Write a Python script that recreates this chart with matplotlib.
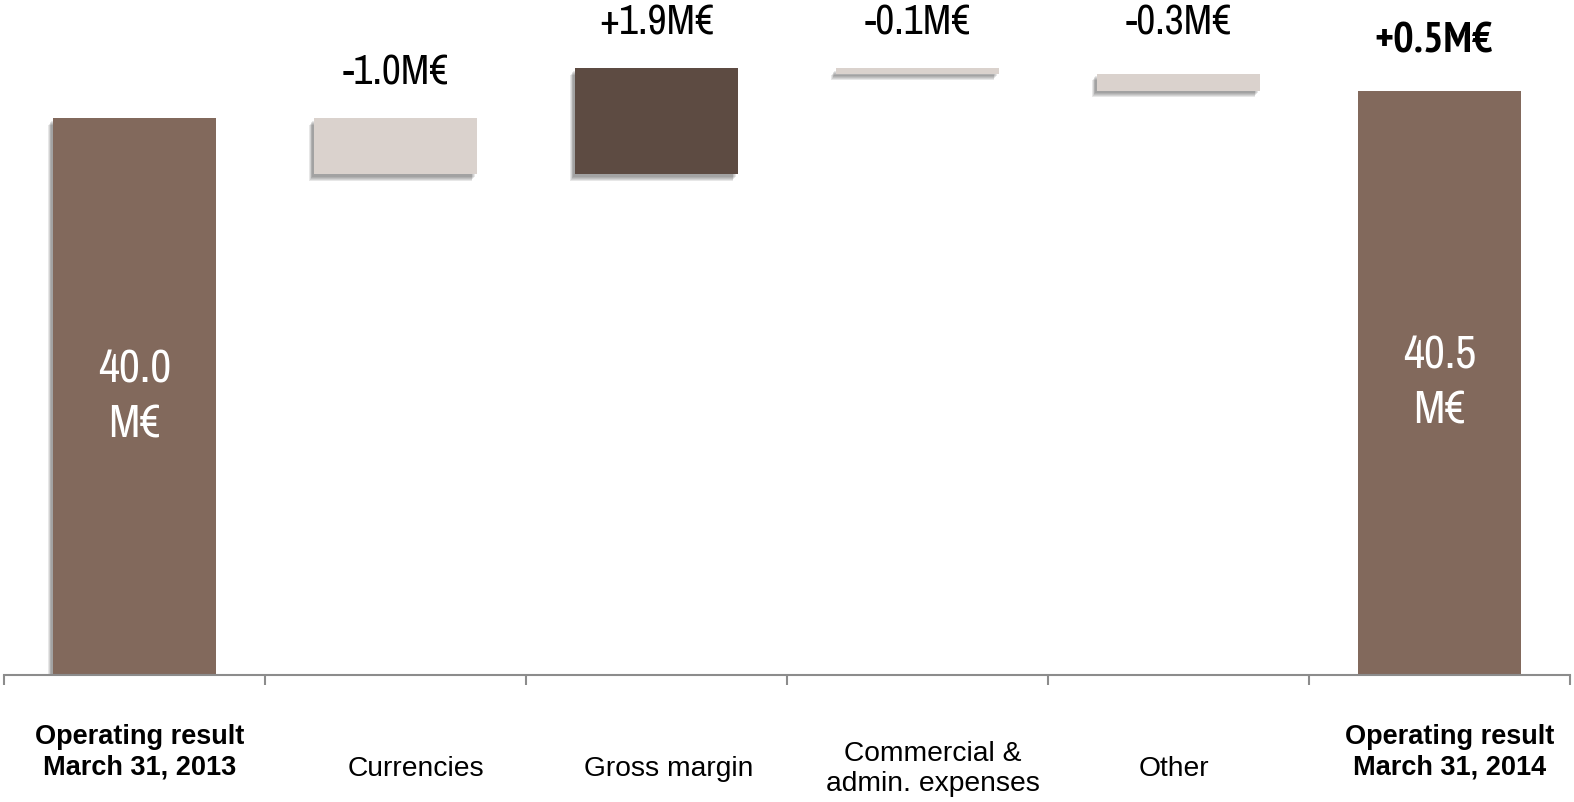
import os
import matplotlib
matplotlib.use("Agg")
import matplotlib.pyplot as plt
import matplotlib.patheffects as pe
from matplotlib import font_manager
from matplotlib.font_manager import FontProperties

# ---- data -------------------------------------------------------------
categories = [
    "Operating result\nMarch 31, 2013",
    "Currencies",
    "Gross margin",
    "Commercial &\nadmin. expenses",
    "Other",
    "Operating result\nMarch 31, 2014",
]
start_value = 40.0
changes = [-1.0, 1.9, -0.1, -0.3]
end_value = 40.5
axis_floor = 30.0

# ---- styling ----------------------------------------------------------
total_color = "#82695C"
up_color = "#5D4B42"
down_color = "#DAD2CD"
axis_color = "#8C8C8C"
# horizontal nudge of each category caption (points)
caption_dx = [4, 15, 9, 11, -3, 7]


def narrow_font(bold):
    """Return a condensed sans-serif face if one is installed."""
    files = [f.fname for f in font_manager.fontManager.ttflist]
    for key in ("narrow", "condensed"):
        for path in sorted(files):
            base = os.path.basename(path).lower()
            if key not in base or "italic" in base or "oblique" in base:
                continue
            if ("bold" in base) == bold:
                return FontProperties(fname=path), key
    return FontProperties(family="Liberation Sans",
                          weight="bold" if bold else "normal"), None


narrow_reg, kind_reg = narrow_font(False)
narrow_bold, kind_bold = narrow_font(True)
regular = ["Liberation Sans", "DejaVu Sans"]

W, H = 1574, 802
fig = plt.figure(figsize=(W / 100, H / 100), dpi=100)
axis_y_px = 675
px_per_unit = 55.65
ax = fig.add_axes([4 / W, (H - axis_y_px) / H, 1566 / W, axis_y_px / H])
ax.set_xlim(-0.5, 5.5)
ax.set_ylim(axis_floor, axis_floor + axis_y_px / px_per_unit)

# soft drop shadow below-left of each floating bar
shadow = [
    pe.SimplePatchShadow(offset=(-0.8 * k, -1.0 * k), shadow_rgbFace="#404040", alpha=0.12)
    for k in (4.6, 3.9, 3.2, 2.5, 1.8)
] + [pe.Normal()]

# ---- bars -------------------------------------------------------------
bar_w = 0.623
levels = [start_value]
for c in changes:
    levels.append(levels[-1] + c)

# opening total
ax.bar(0, start_value - axis_floor, bottom=axis_floor, width=bar_w,
       color=total_color, path_effects=shadow, zorder=2)

# step bars
for i, c in enumerate(changes, start=1):
    lo = min(levels[i - 1], levels[i])
    ax.bar(i, abs(c), bottom=lo, width=bar_w,
           color=up_color if c > 0 else down_color,
           path_effects=shadow, zorder=2)

# closing total
ax.bar(5, end_value - axis_floor, bottom=axis_floor, width=bar_w,
       color=total_color, zorder=2)

# ---- value labels -----------------------------------------------------
inner_size = 33 if kind_reg else 28
step_size = 30 if kind_reg else 25
for x, v in ((0, start_value), (5, end_value)):
    ax.text(x, (axis_floor + v) / 2, f"{v:.1f}\nM€", color="white",
            ha="center", va="center", fontproperties=narrow_reg,
            fontsize=inner_size, linespacing=1.38, zorder=3)

gap_pt = 33
running_high = start_value
for i, c in enumerate(changes, start=1):
    running_high = max(running_high, levels[i - 1], levels[i])
    ax.annotate(f"{c:+.1f}M€", xy=(i, running_high), xytext=(0, gap_pt),
                textcoords="offset points", ha="center", va="center",
                fontproperties=narrow_reg, fontsize=step_size, color="black")

total_change = end_value - start_value
ax.annotate(f"{total_change:+.1f}M€", xy=(5, end_value), xytext=(-4, gap_pt + 2),
            textcoords="offset points", ha="center", va="center",
            fontproperties=narrow_bold, fontsize=step_size + 1, color="black")

# ---- category labels --------------------------------------------------
for i, name in enumerate(categories):
    is_total = i in (0, len(categories) - 1)
    ax.annotate(name, xy=(i, axis_floor),
                xytext=(caption_dx[i], -55.5 if is_total else -68),
                textcoords="offset points", ha="center", va="center",
                fontsize=19.5 if is_total else 20.3, family=regular,
                fontweight="bold" if is_total else "normal",
                linespacing=1.2, color="black", annotation_clip=False)

# ---- axis -------------------------------------------------------------
for side in ("top", "left", "right"):
    ax.spines[side].set_visible(False)
ax.spines["bottom"].set_color(axis_color)
ax.spines["bottom"].set_linewidth(1.5)
ax.set_yticks([])
ax.set_xticks([i - 0.5 for i in range(len(categories) + 1)])
ax.set_xticklabels([])
ax.tick_params(axis="x", direction="out", length=7.5, width=1.5, color=axis_color)
ax.patch.set_visible(False)

fig.savefig("out.png", dpi=100, facecolor="white")
